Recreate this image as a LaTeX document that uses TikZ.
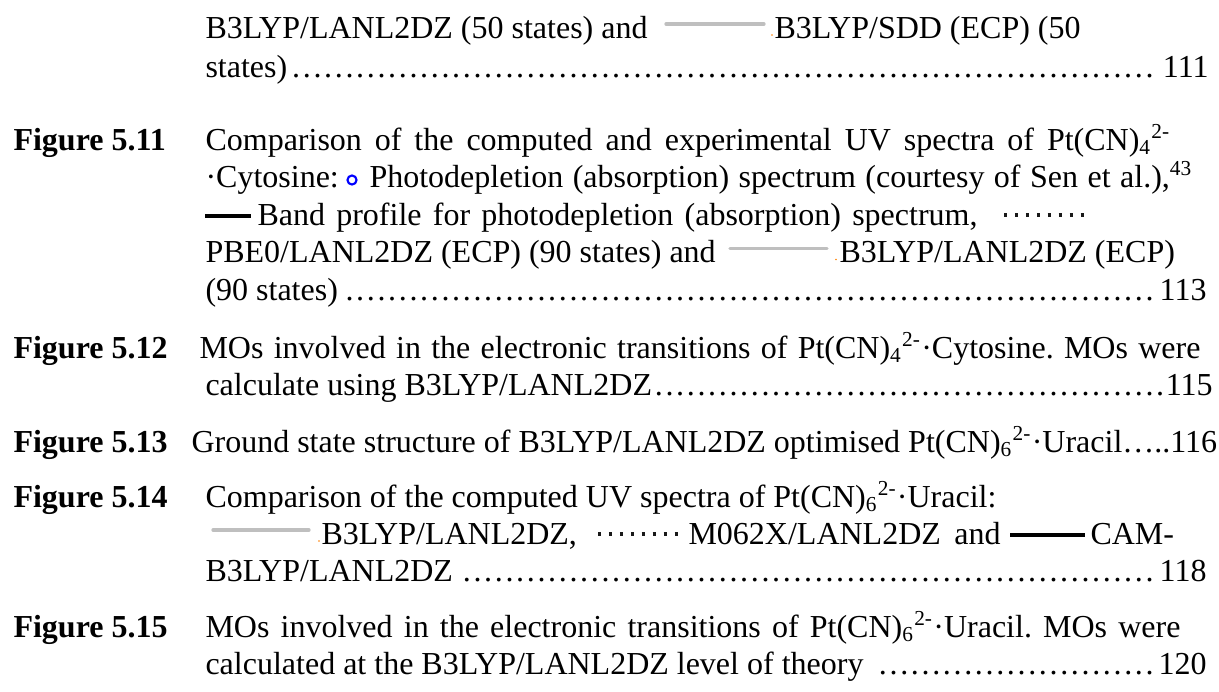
\documentclass[tikz,border=0pt]{standalone}
\usepackage{fontspec}
\setmainfont{Liberation Serif}
\usetikzlibrary{positioning}
\newdimen\pxunit \pxunit=0.375pt
\newcommand{\leaderdots}{\leaders\hbox to 4pt{\hss.\hss}\hfill}
\frenchspacing

\begin{document}
\begin{tikzpicture}[
        x=0.375pt, y=-0.375pt,
        every node/.style={font=\fontsize{12}{14}\selectfont, inner sep=0pt, anchor=base west},
        figlabel/.style={font=\fontsize{12}{14}\selectfont\bfseries},
        greyline/.style={line width=1.25pt, black!25, line cap=round},
        blackline/.style={line width=1.7pt, black},
        dotline/.style={line width=1.4pt, black!90, dash pattern=on 1.2pt off 2.9pt},
        expmark/.style={circle, draw=blue, line width=0.8pt, minimum size=3.4pt, anchor=center},
        tick/.style={circle, fill=orange, minimum size=0.7pt, anchor=center}
    ]
    \useasboundingbox (0,0) rectangle (1219,691);

    % Figure 5.10 (end of entry)
    \node (t510a) at (205,38) {B3LYP/LANL2DZ (50 states) and};
    \draw [greyline] (666,24) -- (764,24);
    \node (o510) [tick] at (772,35) {};
    \node (t510b) at (774,38) {B3LYP/SDD (ECP) (50};
    \node (t510c) at (205,77) {\hbox to 1003\pxunit{states)\leaderdots111}};

    % Figure 5.11
    \node (f511) [figlabel] at (13,150) {Figure 5.11};
    \node (t511a) at (205,150) {\hbox to 965\pxunit{Comparison of the computed and experimental UV spectra of Pt(CN)\textsubscript{4}\textsuperscript{2-}}};
    \node (t511b) at (205,187.5) {·Cytosine:};
    \node (m511) [expmark] at (352,180) {};
    \node (t511c) at (369,187.5) {\hbox to 823\pxunit{Photodepletion (absorption) spectrum (courtesy of Sen et al.),\textsuperscript{43}}};
    \draw [blackline] (205,216) -- (251,216);
    \node (t511d) at (257,225) {\hbox to 720\pxunit{Band profile for photodepletion (absorption) spectrum,}};
    \draw [dotline] (1004,215) -- (1085,215);
    \node (t511e) at (205,262.5) {PBE0/LANL2DZ (ECP) (90 states) and};
    \draw [greyline] (730,248.5) -- (827,248.5);
    \node (o511) [tick] at (836,259.5) {};
    \node (t511f) at (839,262.5) {B3LYP/LANL2DZ (ECP)};
    \node (t511g) at (205,300) {\hbox to 1001\pxunit{(90 states)\leaderdots113}};

    % Figure 5.12
    \node (f512) [figlabel] at (13,358) {Figure 5.12};
    \node (t512a) at (199,358) {\hbox to 1001\pxunit{MOs involved in the electronic transitions of Pt(CN)\textsubscript{4}\textsuperscript{2-}·Cytosine. MOs were}};
    \node (t512b) at (205,395) {\hbox to 1007\pxunit{calculate using B3LYP/LANL2DZ\leaderdots115}};

    % Figure 5.13
    \node (f513) [figlabel] at (13,452) {Figure 5.13};
    \node (t513a) at (191,452) {Ground state structure of B3LYP/LANL2DZ optimised Pt(CN)\textsubscript{6}\textsuperscript{2-}·Uracil…..116};

    % Figure 5.14
    \node (f514) [figlabel] at (13,507) {Figure 5.14};
    \node (t514a) at (205,507) {Comparison of the computed UV spectra of Pt(CN)\textsubscript{6}\textsuperscript{2-}·Uracil:};
    \draw [greyline] (213,530) -- (309,530);
    \node (o514) [tick] at (319,541) {};
    \node (t514b) at (321,544) {B3LYP/LANL2DZ,};
    \draw [dotline] (598,534) -- (679,534);
    \node (t514c) at (688,544) {\hbox to 312\pxunit{M062X/LANL2DZ and}};
    \draw [blackline] (1010,535) -- (1085,535);
    \node (t514d) at (1090,544) {CAM-};
    \node (t514e) at (205,581) {\hbox to 1001\pxunit{B3LYP/LANL2DZ\leaderdots118}};

    % Figure 5.15
    \node (f515) [figlabel] at (13,637) {Figure 5.15};
    \node (t515a) at (205,637) {\hbox to 975\pxunit{MOs involved in the electronic transitions of Pt(CN)\textsubscript{6}\textsuperscript{2-}·Uracil. MOs were}};
    \node (t515b) at (205,674) {\hbox to 1001\pxunit{calculated at the B3LYP/LANL2DZ level of theory \leaderdots120}};

\end{tikzpicture}
\end{document}
